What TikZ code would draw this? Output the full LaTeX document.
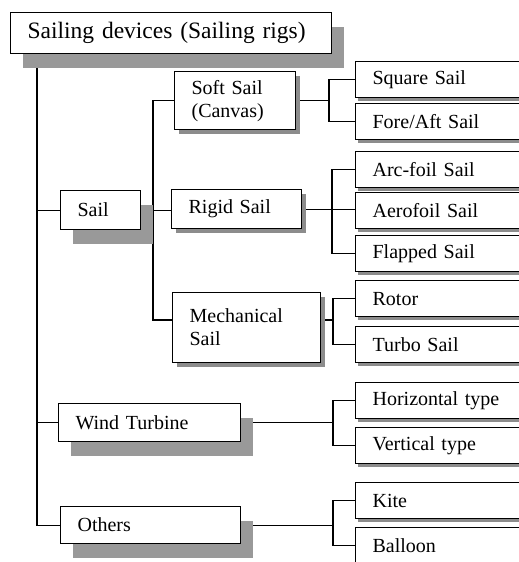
\documentclass[tikz,border=0pt]{standalone}
\usepackage{fontspec}
\setmainfont{Liberation Serif}
\usetikzlibrary{shadows,calc}
\pgfdeclarelayer{background}
\pgfsetlayers{background,main}

\begin{document}
\begin{tikzpicture}[x=1pt,y=-1pt,
  every node/.style={font=\fontsize{20}{23}\selectfont},
  rigbox/.style={draw,line width=1.2pt,fill=white,anchor=north west,align=left,inner xsep=17pt,inner ysep=0pt},
  deep/.style={drop shadow={shadow xshift=12pt,shadow yshift=-14pt,fill=gray!80,opacity=1}},
  flat/.style={drop shadow={shadow xshift=4pt,shadow yshift=-4pt,fill=gray!90,opacity=1}},
  leaf/.style={rigbox,text width=141pt,minimum height=36pt,drop shadow={shadow xshift=2pt,shadow yshift=-3pt,fill=gray!90,opacity=1}},
  link/.style={line width=1.2pt}]
\clip (0,0) rectangle (519,562);

% left column
\node[rigbox,deep,text width=287pt,minimum height=41pt,font=\fontsize{23.5}{27}\selectfont] (root) at (10,12) {Sailing devices (Sailing rigs)};
\node[rigbox,deep,text width=46pt,minimum height=39pt] (sail) at (60,190) {Sail};
\node[rigbox,deep,text width=148pt,minimum height=38pt] (wind) at (58,403) {Wind Turbine};
\node[rigbox,deep,text width=146pt,minimum height=37pt] (others) at (60,506) {Others};

% sail types
\node[rigbox,flat,text width=87pt,minimum height=58pt] (soft) at (174,71) {Soft Sail\\(Canvas)};
\node[rigbox,flat,text width=96pt,minimum height=39pt] (rigid) at (171,189) {Rigid Sail};
\node[rigbox,flat,text width=114pt,minimum height=70pt] (mech) at (172,292) {Mechanical\\Sail};

% right column
\node[leaf] (square) at (355,61) {Square Sail};
\node[leaf] (foreaft) at (355,103) {Fore/Aft Sail};
\node[leaf] (arcfoil) at (355,151) {Arc-foil Sail};
\node[leaf] (aerofoil) at (355,192) {Aerofoil Sail};
\node[leaf] (flapped) at (355,235) {Flapped Sail};
\node[leaf] (rotor) at (355,280) {Rotor};
\node[leaf] (turbo) at (355,326) {Turbo Sail};
\node[leaf] (horiz) at (355,382) {Horizontal type};
\node[leaf] (vert) at (355,427) {Vertical type};
\node[leaf] (kite) at (355,482) {Kite};
\node[leaf] (balloon) at (355,527) {Balloon};

\coordinate (trunk) at ([xshift=27pt]root.south west);
\coordinate (fork) at (153,0);
\coordinate (softfork) at (329,0);
\coordinate (rigidfork) at (332,0);
\coordinate (restfork) at (333,0);
\coordinate (mechin) at ($(mech.north west)+(0,28)$);
\coordinate (mechout) at ($(mech.north east)+(0,28)$);

\begin{pgfonlayer}{background}
  \draw[link] (trunk) -- (trunk |- others.west) -- (others.west);
  \draw[link] (trunk |- sail.west) -- (sail.west);
  \draw[link] (trunk |- wind.west) -- (wind.west);
  % sail
  \draw[link] (sail.east) -- (sail.east -| rigid.west);
  \draw[link] (soft.west) -- (soft.west -| fork) -- (mechin -| fork) -- (mechin);
  % soft sail
  \draw[link] (soft.east) -- (soft.east -| softfork);
  \draw[link] (square.west) -- (square.west -| softfork) -- (foreaft.west -| softfork) -- (foreaft.west);
  % rigid sail
  \draw[link] (rigid.east) -- (rigid.east -| aerofoil.west);
  \draw[link] (arcfoil.west) -- (arcfoil.west -| rigidfork) -- (flapped.west -| rigidfork) -- (flapped.west);
  % mechanical sail
  \draw[link] (mechout) -- (mechout -| restfork);
  \draw[link] (rotor.west) -- (rotor.west -| restfork) -- (turbo.west -| restfork) -- (turbo.west);
  % wind turbine
  \draw[link] (wind.east) -- (wind.east -| restfork);
  \draw[link] (horiz.west) -- (horiz.west -| restfork) -- (vert.west -| restfork) -- (vert.west);
  % others
  \draw[link] (others.east) -- (others.east -| restfork);
  \draw[link] (kite.west) -- (kite.west -| restfork) -- (balloon.west -| restfork) -- (balloon.west);
\end{pgfonlayer}
\end{tikzpicture}
\end{document}
